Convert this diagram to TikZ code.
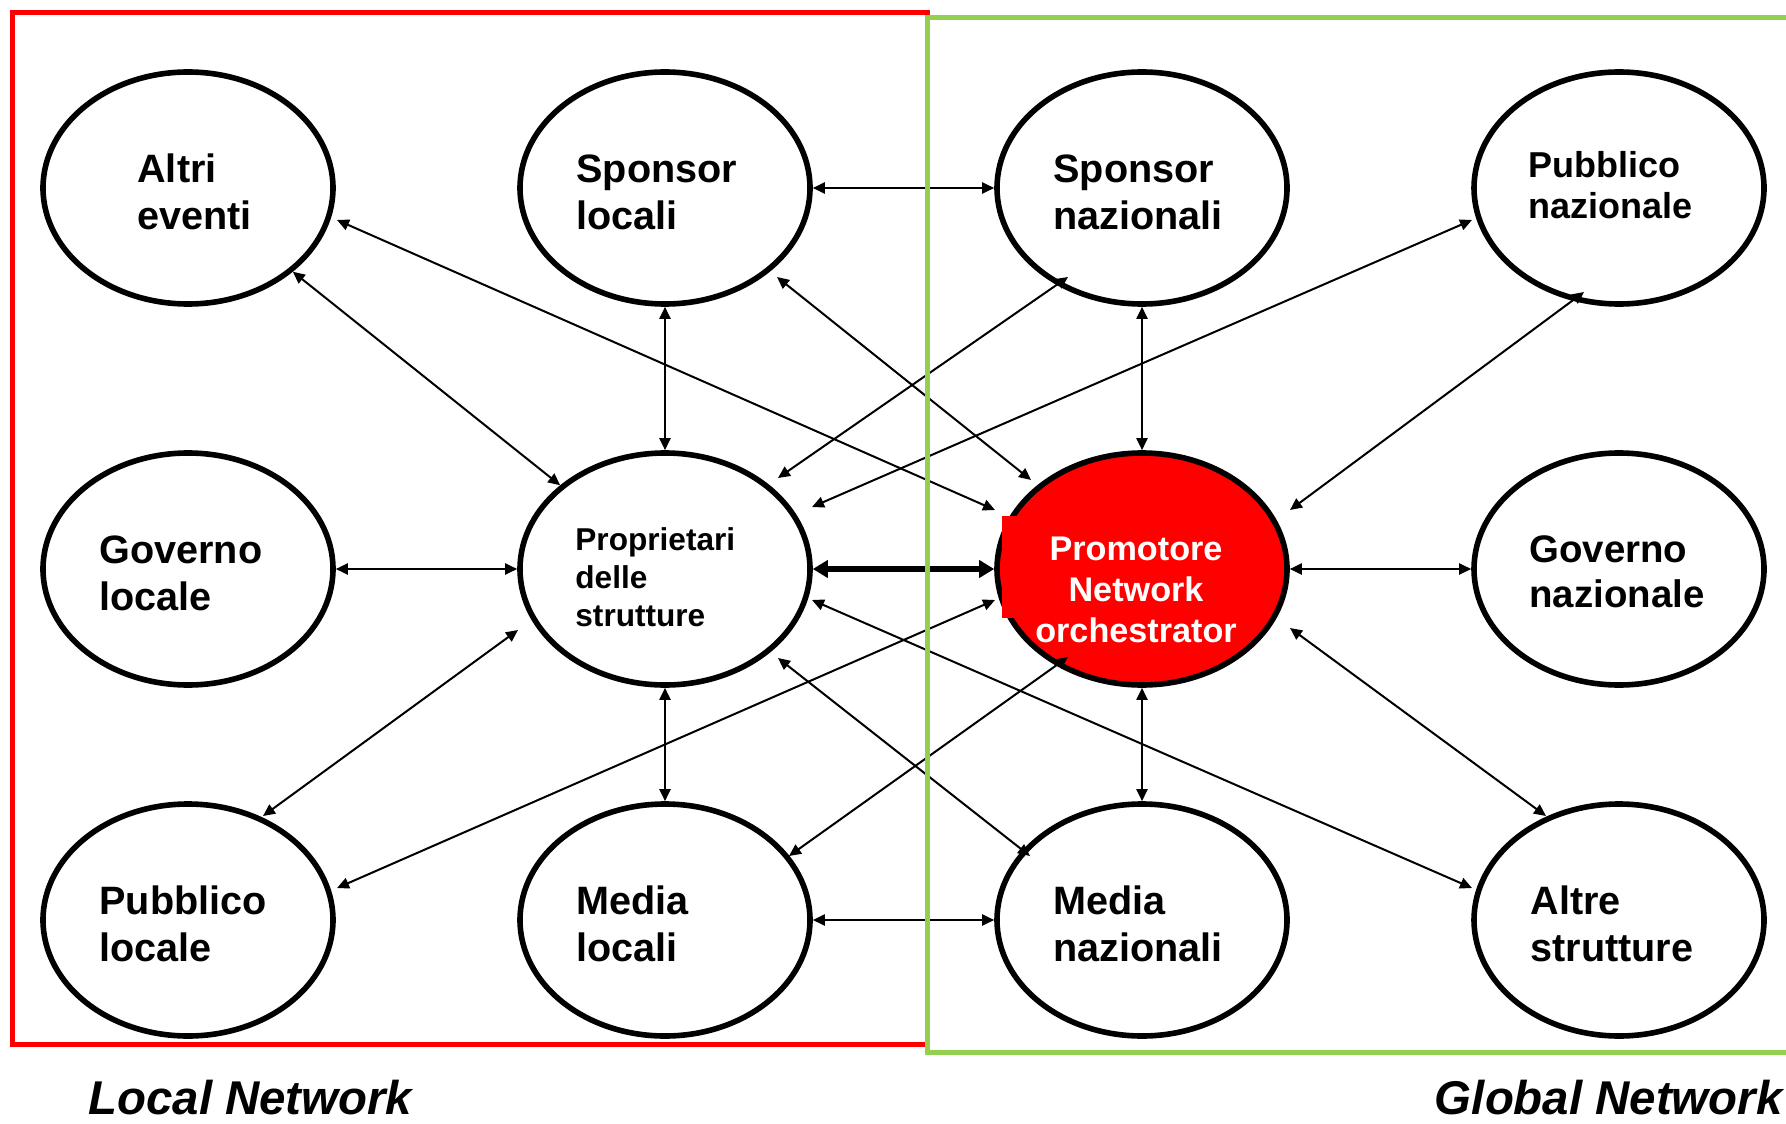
\documentclass[tikz,border=0pt]{standalone}
\usepackage{fontspec}
\setmainfont{Liberation Sans}
\usetikzlibrary{arrows.meta,shapes.geometric,calc}
\definecolor{netred}{RGB}{255,0,0}
\definecolor{netgreen}{RGB}{146,208,80}

\begin{document}
\begin{tikzpicture}[x=0.5pt,y=-0.5pt,
  actor/.style={ellipse, draw=black, line width=2.8pt, fill=white,
    minimum width=145pt, minimum height=116pt, inner sep=0pt},
  hub/.style={actor, fill=netred},
  lbl/.style={anchor=base west, align=left, inner sep=0pt,
    font=\fontsize{19.8pt}{23.5pt}\selectfont\bfseries},
  lblmid/.style={lbl, font=\fontsize{19.2pt}{22.2pt}\selectfont\bfseries},
  lblsmall/.style={lbl, font=\fontsize{18pt}{20.5pt}\selectfont\bfseries},
  lbltiny/.style={lbl, font=\fontsize{15.8pt}{18.8pt}\selectfont\bfseries},
  hublbl/.style={anchor=base, align=center, inner sep=0pt, text=white,
    font=\fontsize{17.1pt}{20.5pt}\selectfont\bfseries},
  caption/.style={inner sep=0pt,
    font=\fontsize{23.7pt}{28pt}\selectfont\bfseries\itshape},
  link/.style={line width=1pt,
    {Triangle[length=6pt,width=5.5pt]}-{Triangle[length=6pt,width=5.5pt]}},
  mainlink/.style={line width=3pt,
    {Triangle[length=7.5pt,width=8.5pt]}-{Triangle[length=7.5pt,width=8.5pt]}},
  frame/.style={line width=2.5pt}
]
\useasboundingbox (0,0) rectangle (1786,1123);

% actors of the network
\node[actor] (ae) at (188,188) {};
\node[actor] (sl) at (665,188) {};
\node[actor] (sn) at (1142,188) {};
\node[actor] (pn) at (1619,188) {};
\node[actor] (gl) at (188,569) {};
\node[actor] (pr) at (665,569) {};
\node[hub]   (pm) at (1142,569) {};
\node[actor] (gn) at (1619,569) {};
\node[actor] (pl) at (188,920) {};
\node[actor] (ml) at (665,920) {};
\node[actor] (mn) at (1142,920) {};
\node[actor] (as) at (1619,920) {};

% filled text box of the orchestrator
\fill[netred] (1002,516) rectangle (1030,618);

% labels (anchored on the baseline of their last line)
\node[lbl] (t-ae) at (137,229) {Altri\\eventi};
\node[lbl] (t-sl) at (576,229) {Sponsor\\locali};
\node[lbl] (t-sn) at (1053,229) {Sponsor\\nazionali};
\node[lblsmall] (t-pn) at (1528,219) {Pubblico\\nazionale};
\node[lbl] (t-gl) at (99,610) {Governo\\locale};
\node[lbltiny] (t-pr) at (575,626) {Proprietari\\delle\\strutture};
\node[hublbl] (t-pm) at (1136,642) {Promotore\\Network\\orchestrator};
\node[lblmid] (t-gn) at (1529,607) {Governo\\nazionale};
\node[lbl] (t-pl) at (99,961) {Pubblico\\locale};
\node[lbl] (t-ml) at (576,961) {Media\\locali};
\node[lbl] (t-mn) at (1053,961) {Media\\nazionali};
\node[lbl] (t-as) at (1530,961) {Altre\\strutture};

% horizontal links
\draw[link] (sl) -- (sn);
\draw[link] (gl) -- (pr);
\draw[mainlink] (pr) -- (pm);
\draw[link] (pm) -- (gn);
\draw[link] (ml) -- (mn);

% vertical links
\draw[link] (sl) -- (pr);
\draw[link] (pr) -- (ml);
\draw[link] (sn) -- (pm);
\draw[link] (pm) -- (mn);

% diagonal links
\draw[link] (ae) -- (pr);
\draw[link] ($(ae)+(149,32)$) -- ($(pm)+(-147,-59)$);
\draw[link] ($(sl)+(112,89)$) -- ($(pm)+(-111,-89)$);
\draw[link] ($(sn)+(-74,89)$) -- ($(pr)+(113,-91)$);
\draw[link] ($(pn)+(-147,32)$) -- ($(pr)+(147,-62)$);
\draw[link] ($(pn)+(-35,104)$) -- ($(pm)+(148,-59)$);
\draw[link] ($(pr)+(-147,61)$) -- ($(pl)+(75,-104)$);
\draw[link] ($(pm)+(-147,31)$) -- ($(pl)+(149,-32)$);
\draw[link] ($(pr)+(113,89)$) -- ($(mn)+(-112,-64)$);
\draw[link] ($(ml)+(124,-64)$) -- ($(pm)+(-74,88)$);
\draw[link] ($(pr)+(147,31)$) -- ($(as)+(-147,-32)$);
\draw[link] ($(pm)+(148,59)$) -- ($(as)+(-73,-104)$);

% local and global frames
\draw[frame, netred] (12.5,12.5) rectangle (927,1044);
\draw[frame, netgreen] (927,17.5) rectangle (1800,1052.5);

% captions
\node[caption, anchor=base west] (local) at (88,1114) {Local Network};
\node[caption, anchor=base east] (global) at (1783,1114) {Global Network};
\end{tikzpicture}
\end{document}
